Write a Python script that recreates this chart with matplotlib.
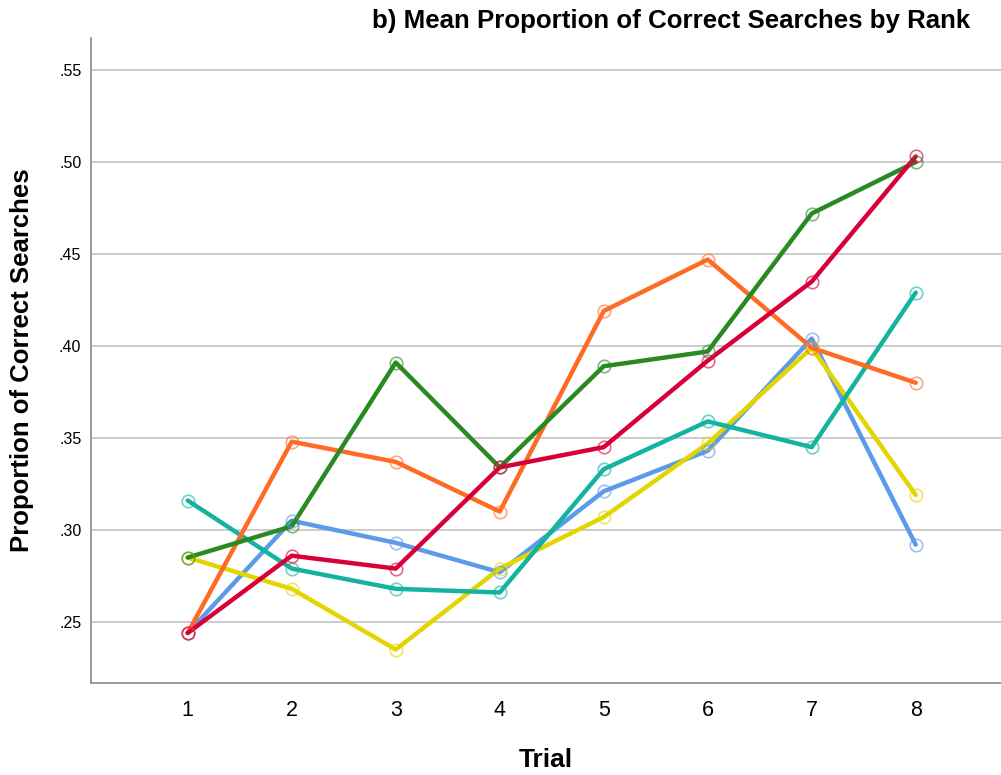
import matplotlib.pyplot as plt

plt.rcParams['font.family'] = ['Liberation Sans', 'DejaVu Sans']

trials = [1, 2, 3, 4, 5, 6, 7, 8]
red = [.244, .286, .279, .334, .345, .392, .435, .503]
orange = [.244, .348, .337, .310, .419, .447, .399, .380]
blue = [.244, .305, .293, .277, .321, .343, .404, .292]
green = [.285, .302, .391, .334, .389, .397, .472, .500]
yellow = [.285, .268, .235, .279, .307, .347, .399, .319]
teal = [.316, .279, .268, .266, .333, .359, .345, .429]

series = [
    (blue, '#5B9BEA'),
    (yellow, '#E2D500'),
    (teal, '#13B3A0'),
    (orange, '#FF6A24'),
    (green, '#2A8A22'),
    (red, '#D9003A'),
]

fig = plt.figure(figsize=(10.01, 7.75), dpi=100)
ax = fig.add_axes([91 / 1001, 1 - 683 / 775, 910 / 1001, 645 / 775])

for vals, col in series:
    ax.plot(trials, vals, color=col, lw=3.2, solid_capstyle='round', zorder=3)
    ax.plot(trials, vals, 'o', ms=9, mfc='none', mec=col, mew=1.2, alpha=0.6, zorder=4)

ax.set_xlim(0.07, 8.82)
ax.set_ylim(0.2168, 0.5674)
ax.set_yticks([.25, .30, .35, .40, .45, .50, .55])
ax.set_yticklabels(['.25', '.30', '.35', '.40', '.45', '.50', '.55'], fontsize=11.5)
ax.set_xticks(trials)
ax.set_xticklabels([str(t) for t in trials], fontsize=15.5)
ax.tick_params(length=0)
ax.tick_params(axis='y', pad=7)
ax.tick_params(axis='x', pad=12)
ax.yaxis.grid(True, color='#C8C8C8', lw=1.3)
ax.set_axisbelow(True)
for s in ['top', 'right']:
    ax.spines[s].set_visible(False)
for s in ['left', 'bottom']:
    ax.spines[s].set_color('#888888')
    ax.spines[s].set_linewidth(1.2)

ax.set_ylabel('Proportion of Correct Searches', fontsize=18.5, fontweight='bold', labelpad=18)
ax.set_xlabel('Trial', fontsize=19, fontweight='bold', labelpad=20)
fig.text(970 / 1001, 1 - 21 / 775, 'b) Mean Proportion of Correct Searches by Rank',
         ha='right', va='center', fontsize=18.6, fontweight='bold')

fig.savefig('out.png', dpi=100)
